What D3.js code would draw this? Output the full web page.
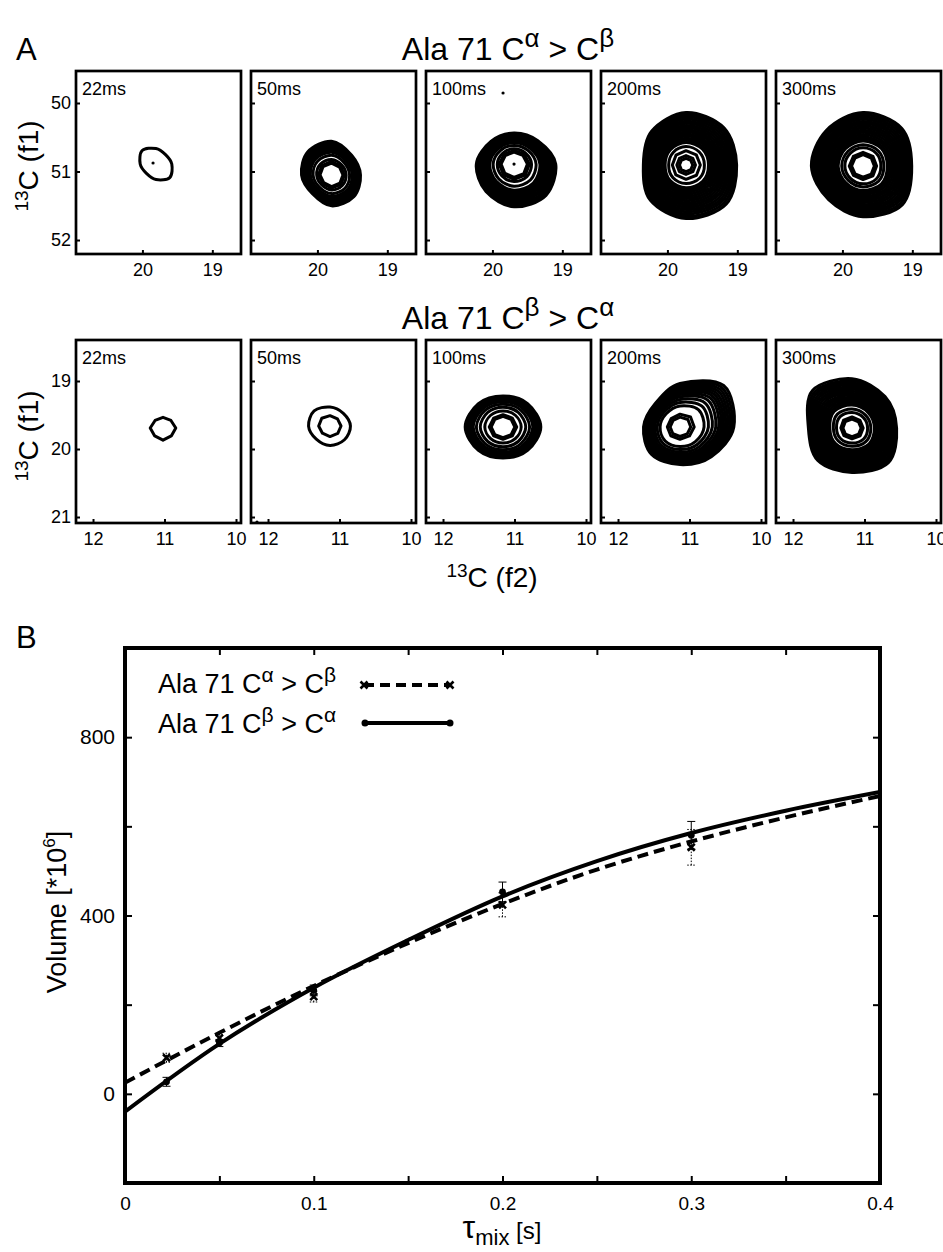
<!DOCTYPE html>
<html>
<head>
<meta charset="utf-8">
<title>Ala 71 mixing-time series</title>
<script src="https://cdn.jsdelivr.net/npm/d3@7"></script>
<style>
  body { margin: 0; background: #fff; }
  text { font-family: "Liberation Sans", Arial, Helvetica, sans-serif; white-space: pre; }
</style>
</head>
<body>
<div id="fig"></div>
<script>
// ---- data ----
const mixLabels = ["22ms", "50ms", "100ms", "200ms", "300ms"];

// row 1: Ala 71 Ca > Cb
const f2TicksCaCb = [20, 19];
const f1TicksCaCb = [50, 51, 52];
const centersCaCb = [[19.806, 50.891], [19.798, 51.051], [19.691, 50.891], [19.734, 50.905], [19.705, 50.920]];
// peak outline radius (ppm) at 0,45,...,315 deg, clockwise from the right
const profilesCaCb = [
  [0.226, 0.279, 0.226, 0.193, 0.226, 0.279, 0.226, 0.193],
  [0.414, 0.45, 0.45, 0.386, 0.429, 0.479, 0.493, 0.407],
  [0.596, 0.646, 0.624, 0.567, 0.539, 0.467, 0.453, 0.481],
  [0.724, 0.81, 0.781, 0.724, 0.61, 0.696, 0.767, 0.767],
  [0.696, 0.796, 0.739, 0.696, 0.739, 0.739, 0.781, 0.781]
];
// contour levels as a fraction of the outline
const levelsCaCb = [
  [1],
  [1, .95, .9, .85, .8, .75, .7, .61, .49, .43, .38],
  [1, .96, .92, .88, .84, .8, .76, .72, .68, .64, .55, .44, .39, .34],
  [1, .96, .92, .88, .84, .8, .76, .72, .68, .64, .6, .56, .52, .48, .44, .36, .28, .185, .13],
  [1, .96, .92, .88, .84, .8, .76, .72, .68, .64, .6, .56, .52, .48, .41, .35, .265, .22]
];
const specksCaCb = [[0, 19.848, 50.876], [2, 19.848, 49.854], [2, 19.691, 50.891]];

// row 2: Ala 71 Cb > Ca
const f2TicksCbCa = [12, 11, 10];
const f1TicksCbCa = [19, 20, 21];
const centersCbCa = [[11.021, 19.691], [11.133, 19.662], [11.161, 19.676], [11.133, 19.676], [11.175, 19.691]];
const profilesCbCa = [
  [0.179, 0.164, 0.179, 0.164, 0.179, 0.157, 0.157, 0.157],
  [0.286, 0.286, 0.286, 0.271, 0.3, 0.314, 0.279, 0.264],
  [0.529, 0.486, 0.457, 0.486, 0.529, 0.486, 0.457, 0.486],
  [0.753, 0.619, 0.553, 0.567, 0.51, 0.489, 0.639, 0.863],
  [0.624, 0.72, 0.653, 0.676, 0.61, 0.781, 0.724, 0.653]
];
const levelsCbCa = [
  [1],
  [1, .54],
  [1, .96, .92, .88, .84, .8, .72, .62, .5, .38, .33],
  [1, .965, .93, .895, .86, .825, .79, .75, .7, .64, .57, .49, .3, .23],
  [1, .96, .92, .88, .84, .8, .76, .72, .68, .64, .6, .56, .52, .48, .4, .33, .235, .19]
];
const specksCbCa = [[1, 12.154, 21.074]];

// panel B: build-up curves
const tauMix = [0.022, 0.05, 0.1, 0.2, 0.3];
const volCaCb = [81, 125, 218, 424, 553];
const errCaCb = [10, 8, 12, 27, 40];
const volCbCa = [27, 114, 232, 453, 580];
const errCbCa = [10, 8, 12, 22, 31];
const fitTimes = [0, 0.05, 0.1, 0.15, 0.2, 0.25, 0.3, 0.35, 0.4];
const fitCaCb = [25, 137, 242, 338, 426, 503, 566, 620, 668];
const fitCbCa = [-40, 112, 238, 345, 443, 522, 585, 635, 677];
const xTicksB = [0, 0.05, 0.1, 0.15, 0.2, 0.25, 0.3, 0.35, 0.4];
const xLabelsB = ["0", "", "0.1", "", "0.2", "", "0.3", "", "0.4"];
const yTicksB = [0, 200, 400, 600, 800];
const yLabelsB = ["0", "", "400", "", "800"];

// ---- layout ----
const W = 943, H = 1252;
const panelLeft = [76, 251, 426, 601, 776], panelW = 165, panelH = 183;
const rowTop = [71, 340];

const svg = d3.select("#fig").append("svg")
  .attr("width", W).attr("height", H)
  .attr("viewBox", "0 0 " + W + " " + H);

// text with super/subscripts: parts = [string, size, shift]
function rich(parent, x, y, parts, anchor, rotate) {
  const t = parent.append("text")
    .attr("text-anchor", anchor || "start")
    .attr("transform", "translate(" + x + "," + y + ")" + (rotate ? " rotate(" + rotate + ")" : ""));
  let cur = 0;
  parts.forEach(([s, size, shift]) => {
    t.append("tspan").attr("font-size", size).attr("dy", shift - cur).text(s);
    cur = shift;
  });
  return t;
}

function styleAxis(g, size) {
  g.select(".domain").remove();
  g.selectAll(".tick line").attr("stroke", "#000").attr("stroke-width", 2);
  g.selectAll(".tick text").attr("fill", "#000").attr("font-size", size)
    .attr("font-family", "Liberation Sans, Arial, sans-serif");
}

function drawRow(r, cfg) {
  cfg.centers.forEach((c, i) => {
    const g = svg.append("g").attr("transform", "translate(" + panelLeft[i] + "," + rowTop[r] + ")");
    const x = d3.scaleLinear().domain(cfg.xDom).range([0, panelW]);
    const y = d3.scaleLinear().domain(cfg.yDom).range([0, panelH]);
    const clipId = "clip" + r + i;
    g.append("clipPath").attr("id", clipId).append("rect").attr("width", panelW).attr("height", panelH);
    const cg = g.append("g").attr("clip-path", "url(#" + clipId + ")");

    const prof = cfg.profiles[i], mean = d3.mean(prof);
    cfg.levels[i].forEach(f => {
      const pts = prof.map((p, k) => {
        const a = k * Math.PI / 4, rr = f * (mean + (p - mean) * f);
        return [x(c[0] - rr * Math.cos(a)), y(c[1] + rr * Math.sin(a))];
      });
      const pxR = Math.abs(x(c[0] - f * mean) - x(c[0]));
      const line = d3.line().curve(pxR < 15 ? d3.curveLinearClosed : d3.curveCardinalClosed);
      cg.append("path").attr("d", line(pts))
        .attr("fill", "none").attr("stroke", "#000")
        .attr("stroke-width", 3).attr("stroke-linejoin", "round");
    });
    cfg.specks.filter(s => s[0] === i).forEach(s => {
      cg.append("circle").attr("cx", x(s[1])).attr("cy", y(s[2])).attr("r", 1.6).attr("fill", "#000");
    });

    const xa = d3.axisBottom(x).tickValues(cfg.xTicks).tickSizeInner(-4).tickSizeOuter(0)
      .tickPadding(9).tickFormat(d3.format("d"));
    styleAxis(g.append("g").attr("transform", "translate(0," + panelH + ")").call(xa), 18);
    const ya = d3.axisLeft(y).tickValues(cfg.yTicks).tickSizeInner(-4).tickSizeOuter(0)
      .tickPadding(5).tickFormat(i === 0 ? d3.format("d") : () => "");
    styleAxis(g.append("g").call(ya), 18);

    g.append("rect").attr("width", panelW).attr("height", panelH)
      .attr("fill", "none").attr("stroke", "#000").attr("stroke-width", 2.7);
    g.append("text").attr("x", 6).attr("y", 24).attr("font-size", 18).text(mixLabels[i]);
  });
}

// ---- panel A ----
svg.append("text").attr("x", 16).attr("y", 60).attr("font-size", 31).text("A");

rich(svg, 508, 60, [["Ala 71 C", 32, 0], ["\u03b1", 26, -13], [" > C", 32, 0], ["\u03b2", 26, -13]], "middle");
rich(svg, 508, 329, [["Ala 71 C", 32, 0], ["\u03b2", 26, -13], [" > C", 32, 0], ["\u03b1", 26, -13]], "middle");

drawRow(0, { xDom: [20.95, 18.59], yDom: [49.533, 52.204], xTicks: f2TicksCaCb, yTicks: f1TicksCaCb,
  centers: centersCaCb, profiles: profilesCaCb, levels: levelsCaCb, specks: specksCaCb });
drawRow(1, { xDom: [12.238, 9.93], yDom: [18.397, 21.088], xTicks: f2TicksCbCa, yTicks: f1TicksCbCa,
  centers: centersCbCa, profiles: profilesCbCa, levels: levelsCbCa, specks: specksCbCa });

rich(svg, 38, 166, [["13", 19, -10], ["C (f1)", 28, 0]], "middle", -90);
rich(svg, 38, 436, [["13", 19, -10], ["C (f1)", 28, 0]], "middle", -90);
rich(svg, 492, 587, [["13", 19, -10], ["C (f2)", 28, 0]], "middle");

// ---- panel B ----
svg.append("text").attr("x", 16).attr("y", 648).attr("font-size", 31).text("B");

const bx = d3.scaleLinear().domain([0, 0.4]).range([125, 880]);
const by = d3.scaleLinear().domain([-200, 1000]).range([1183, 648]);

const gB = svg.append("g");
gB.append("clipPath").attr("id", "clipB").append("rect")
  .attr("x", bx(0)).attr("y", by(1000)).attr("width", bx(0.4) - bx(0)).attr("height", by(-200) - by(1000));

styleAxis(gB.append("g").attr("transform", "translate(0," + by(-200) + ")")
  .call(d3.axisBottom(bx).tickValues(xTicksB).tickSizeInner(-7).tickSizeOuter(0).tickPadding(14)
    .tickFormat((d, i) => xLabelsB[i])), 19);
styleAxis(gB.append("g").attr("transform", "translate(0," + by(1000) + ")")
  .call(d3.axisTop(bx).tickValues(xTicksB).tickSizeInner(-7).tickSizeOuter(0).tickFormat(() => "")), 19);
styleAxis(gB.append("g").attr("transform", "translate(" + bx(0) + ",0)")
  .call(d3.axisLeft(by).tickValues(yTicksB).tickSizeInner(-7).tickSizeOuter(0).tickPadding(10)
    .tickFormat((d, i) => yLabelsB[i])), 21);
styleAxis(gB.append("g").attr("transform", "translate(" + bx(0.4) + ",0)")
  .call(d3.axisRight(by).tickValues(yTicksB).tickSizeInner(-7).tickSizeOuter(0).tickFormat(() => "")), 21);

const plot = gB.append("g").attr("clip-path", "url(#clipB)");
const fitLine = d3.line().x((d, i) => bx(fitTimes[i])).y(d => by(d)).curve(d3.curveMonotoneX);
plot.append("path").attr("d", fitLine(fitCaCb)).attr("fill", "none").attr("stroke", "#000")
  .attr("stroke-width", 4).attr("stroke-dasharray", "11,6");
plot.append("path").attr("d", fitLine(fitCbCa)).attr("fill", "none").attr("stroke", "#000")
  .attr("stroke-width", 4);

function errorBars(vals, errs, dash) {
  tauMix.forEach((t, i) => {
    const xx = bx(t), y0 = by(vals[i] - errs[i]), y1 = by(vals[i] + errs[i]);
    const e = plot.append("g").attr("stroke", "#000").attr("stroke-width", 1).attr("stroke-dasharray", dash);
    e.append("line").attr("x1", xx).attr("x2", xx).attr("y1", y0).attr("y2", y1);
    e.append("line").attr("x1", xx - 4).attr("x2", xx + 4).attr("y1", y0).attr("y2", y0);
    e.append("line").attr("x1", xx - 4).attr("x2", xx + 4).attr("y1", y1).attr("y2", y1);
  });
}
errorBars(volCaCb, errCaCb, "1.5,1.5");
errorBars(volCbCa, errCbCa, null);

const crossPath = "M-3.5,-3.5L3.5,3.5M-3.5,3.5L3.5,-3.5";
function cross(g, x, y) {
  g.append("path").attr("d", crossPath).attr("transform", "translate(" + x + "," + y + ")")
    .attr("stroke", "#000").attr("stroke-width", 2.6).attr("fill", "none");
}
tauMix.forEach((t, i) => cross(plot, bx(t), by(volCaCb[i])));
tauMix.forEach((t, i) => plot.append("circle").attr("cx", bx(t)).attr("cy", by(volCbCa[i])).attr("r", 3.4).attr("fill", "#000"));

gB.append("rect").attr("x", bx(0)).attr("y", by(1000))
  .attr("width", bx(0.4) - bx(0)).attr("height", by(-200) - by(1000))
  .attr("fill", "none").attr("stroke", "#000").attr("stroke-width", 4);

// legend
const leg = gB.append("g");
rich(leg, 158, 693, [["Ala 71 C", 27, 0], ["\u03b1", 21, -11], [" > C", 27, 0], ["\u03b2", 21, -11]]);
rich(leg, 158, 733, [["Ala 71 C", 27, 0], ["\u03b2", 21, -11], [" > C", 27, 0], ["\u03b1", 21, -11]]);
leg.append("line").attr("x1", 364).attr("x2", 450).attr("y1", 685).attr("y2", 685)
  .attr("stroke", "#000").attr("stroke-width", 4).attr("stroke-dasharray", "10,6");
cross(leg, 364, 685); cross(leg, 450, 685);
leg.append("line").attr("x1", 365).attr("x2", 450).attr("y1", 723).attr("y2", 723)
  .attr("stroke", "#000").attr("stroke-width", 4);
leg.append("circle").attr("cx", 365).attr("cy", 723).attr("r", 3.5);
leg.append("circle").attr("cx", 450).attr("cy", 723).attr("r", 3.5);

// axis titles
rich(svg, 66, 912, [["Volume [*10", 27, 0], ["6", 17, -11], ["]", 27, 0]], "middle", -90);
rich(svg, 502, 1238, [["\u03c4", 32, 0], ["mix", 22, 7], [" [s]", 24, 1]], "middle");
</script>
</body>
</html>
